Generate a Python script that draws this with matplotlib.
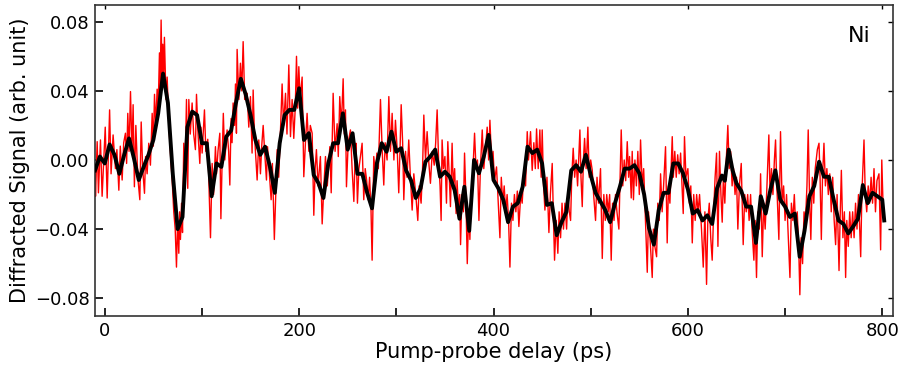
import matplotlib
matplotlib.use("Agg")
import matplotlib.pyplot as plt
from matplotlib.ticker import MultipleLocator

# ---- data ----
black_t = [-10, -5, 0, 5, 10, 15, 20, 25, 30, 35, 40, 45, 50, 55, 60, 65, 70, 75, 80,
           85, 90, 95, 100, 105, 110, 115, 120, 125, 130, 135, 140, 145, 150, 155, 160,
           165, 170, 175, 180, 185, 190, 195, 200, 205, 210, 215, 220, 225, 230, 235,
           240, 245, 250, 255, 260, 265, 270, 275, 280, 285, 290, 295, 300, 305, 310,
           315, 320, 325, 330, 335, 340, 345, 350, 355, 360, 365, 370, 375, 380, 385,
           390, 395, 400, 405, 410, 415, 420, 425, 430, 435, 440, 445, 450, 455, 460,
           465, 470, 475, 480, 485, 490, 495, 500, 505, 510, 515, 520, 525, 530, 535,
           540, 545, 550, 555, 560, 565, 570, 575, 580, 585, 590, 595, 600, 605, 610,
           615, 620, 625, 630, 635, 638, 642, 646, 650, 655, 660, 665, 670, 675, 680,
           685, 690, 695, 700, 705, 710, 715, 720, 725, 730, 735, 740, 745, 750, 755,
           760, 765, 770, 775, 780, 785, 790, 795, 800, 802]
black_v = [-0.006, 0.002, -0.002, 0.009, 0.003, -0.008, 0.003, 0.0125, 0.001, -0.0116,
           -0.004, 0.003, 0.0116, 0.027, 0.050, 0.033, -0.008, -0.040, -0.033,
           0.019, 0.028, 0.026, 0.0097, 0.0097, -0.021, -0.002, -0.004, 0.0135, 0.017,
           0.033, 0.047, 0.038, 0.026, 0.0116, 0.003,
           0.0077, -0.004, -0.019, 0.0097, 0.026, 0.029, 0.029, 0.0415, 0.0116, 0.0155,
           -0.0087, -0.0135, -0.022, -0.002, 0.0097,
           0.0097, 0.027, 0.006, 0.0155, -0.008, -0.008, -0.019, -0.028, -0.002, 0.0097,
           0.0048, 0.0164, 0.0048, 0.0068, -0.006,
           -0.0116, -0.022, -0.0164, -0.001, 0.002, 0.006, -0.0097, -0.0068, -0.0097,
           -0.0175, -0.034, -0.0155, -0.041, 0.000, -0.0077,
           0.002, 0.0145, -0.0116, -0.0164, -0.023, -0.036, -0.027, -0.025, -0.0155,
           0.0077, 0.004, 0.006, -0.002, -0.026, -0.025,
           -0.0435, -0.036, -0.030, -0.006, -0.003, -0.0068, 0.003, -0.0087, -0.019,
           -0.024, -0.029, -0.036, -0.025, -0.0155, -0.005,
           -0.005, -0.003, -0.0077, -0.020, -0.0395, -0.049, -0.029, -0.019, -0.019,
           -0.002, -0.002, -0.0077, -0.017, -0.031, -0.029,
           -0.035, -0.032, -0.037, -0.0164, -0.009, -0.012, 0.006, -0.006, -0.0135,
           -0.018, -0.027, -0.027, -0.048, -0.021, -0.031,
           -0.017, -0.006, -0.023, -0.027, -0.033, -0.031, -0.056, -0.041, -0.021,
           -0.015, -0.001, -0.0097, -0.0097, -0.023, -0.035,
           -0.037, -0.0425, -0.0385, -0.034, -0.0145, -0.025, -0.019, -0.021, -0.023,
           -0.035]

red_t = [-10, -9.5, -7.8, -6.5, -4.4, -2.7, -1, 0.5, 2.5, 5.0, 6.5, 8.6, 11, 12.5, 14.5,
         16, 17.9, 19.5, 21.3, 22.5, 23.7, 25, 26.5, 28, 29.2, 30.5, 32, 34, 36.1, 37.5,
         39, 40.9, 42, 43.6, 45.3, 47, 48.8, 50, 51.2, 52.5, 53.9, 55, 56.3, 57, 58, 59,
         59.7, 60.5, 61.4, 63, 64.2, 66, 68, 69.4, 71, 72.5, 73.8, 75, 76.2, 77, 77.9, 79,
         80, 81.3, 82.5, 84.1, 85.4, 86.5, 88, 89.9, 91.5, 93.3, 94.4, 96, 97.8, 99,
         100.2, 102.6, 104, 106, 107.5, 108.8, 110.5, 112, 113.9, 115, 116.5, 118.4,
         119.5, 121, 122, 123.5, 125.9, 127.5, 128.7, 130, 131, 132.1, 133.5, 134.5,
         135.5, 136.2, 138, 139.6, 141, 142.4, 144, 146.5, 148.2, 149.9, 151.6, 152.7,
         154, 156.8, 158.5, 160.2, 161.5, 163, 164.5, 166.4, 167.5, 169, 171.2, 172.5,
         174.5, 176, 177.4, 179, 180.5, 182.5, 184, 186, 187.5, 189.4, 191.1, 192.8,
         194.5, 196, 197.3, 198.5, 199.7, 201, 203.1, 204.8, 206.5, 208.2, 210, 211.5,
         213.4, 215.1, 216.5, 217.8, 219.5, 221.9, 223.7, 225.5, 227.1, 229, 231.6, 233,
         235, 237, 239.1, 240.3, 241.8, 243.5, 245.3, 246.5, 247.7, 248.7, 250.5, 252.8,
         254.5, 256.3, 257.5, 258.5, 260, 261.5, 263.1, 264.8, 266.5, 268, 269.5, 271,
         272.5, 274, 275.1, 276.8, 278.5, 280, 281.5, 283.7, 285.5, 287.1, 288.5, 290.5,
         292.3, 294, 295.7, 297.5, 299.1, 301, 302.5, 304, 305, 306.5, 307.7, 309.5, 311,
         312.8, 314.5, 316.3, 318, 320, 322.1, 323.5, 325.5, 327, 328.3, 330, 331.7,
         333.5, 335.1, 337, 339, 340.5, 342, 343.5, 345, 346.1, 347.1, 348.5, 350, 351.6,
         353, 354.5, 355.7, 357.4, 358.5, 360, 361.5, 362.5, 364, 365.2, 366.1, 367.5,
         369, 370.2, 371.5, 373, 374.5, 375.7, 377, 378.5, 380.5, 382, 383.5, 385, 386.5,
         388.4, 390, 391.5, 393.5, 395, 396.3, 398, 399.5, 401, 403.1, 404.5, 406.6, 408,
         409.5, 411, 412.5, 414, 415.5, 416.9, 418.5, 420, 421.5, 423, 424.5, 426.1, 428,
         429.5, 431.3, 433, 434.7, 436, 438.1, 439.8, 441.5, 443, 444.3, 446, 447.7, 449,
         450.1, 451.5, 452.9, 455, 457, 458.5, 460.4, 461.5, 462.8, 464.5, 466.2, 467.5,
         469, 470.5, 472, 473.5, 475.2, 476.5, 478, 479.3, 480.5, 482, 483.5, 485, 486.5,
         488.9, 490, 491.3, 492.5, 493.7, 495.3, 497.1, 498.5, 500, 501.6, 503, 505,
         506.5, 508, 510.1, 511.9, 513.5, 515, 516.5, 518, 519.5, 521.1, 522.5, 524,
         525.5, 527, 529, 530.3, 531.4, 533, 534.5, 536, 537.6, 539, 540, 541.7, 542.7,
         544, 545.5, 547, 548.5, 550, 551.3, 553, 554.5, 556, 558.2, 559.5, 561, 563.3,
         564.5, 566, 567.8, 569, 570.5, 571.9, 573.5, 575, 577, 578.7, 580, 581.5, 583.9,
         585, 586.5, 588, 589.5, 591, 592.5, 594, 595.2, 596.5, 598, 600, 601.5, 603,
         604.5, 606, 607.5, 609, 610.5, 612, 614, 615.8, 617.5, 619.2, 620.5, 622, 623.5,
         625, 626.5, 628, 629.5, 630.9, 632.5, 634, 635.3, 636.5, 638, 639.5, 641.1,
         642.5, 644, 645.5, 647, 648.5, 650, 651.4, 653, 654.9, 656.9, 658.5, 660, 661.5,
         663, 664.5, 666, 667.9, 669.2, 670.6, 672, 673.5, 674.8, 676.5, 678, 679.5, 681,
         683.3, 684.5, 686, 687.5, 689, 690.2, 691.5, 693.6, 695.3, 697, 698.5, 700,
         701.5, 703, 705, 706.5, 708, 709.5, 711, 712.5, 714, 715.2, 716.5, 718, 719.5,
         721, 722.5, 723.8, 725.3, 726.5, 728, 729.5, 731, 733.2, 734.9, 736, 737.3,
         738.5, 740, 741.5, 743, 744.5, 746, 747.5, 749, 750.5, 752, 753.5, 755.5, 756.8,
         757.9, 759.5, 761, 762.3, 763.5, 765, 766.5, 768, 769.5, 771, 772.5, 774, 775.5,
         777.8, 779, 781.2, 782.5, 784, 785.5, 787, 788.5, 790, 791.5, 793, 794.5, 796.6,
         798.3, 799.5, 801, 802]
red_v = [-0.006, -0.021, 0.0106, -0.019, 0.0116, -0.021, 0.0, 0.019, -0.022, 0.029, -0.008,
         0.0145, -0.005, 0.006, -0.0175, 0.008, -0.0116, 0.01, 0.0155, -0.002, 0.027, 0.005,
         0.0396, 0.005, 0.032, -0.0155, 0.020, -0.010, -0.023, 0.022, -0.005, -0.0193,
         0.002, -0.008, 0.0097, -0.003, 0.027, 0.008, 0.038, 0.02, 0.041, 0.03, 0.062,
         0.04, 0.081, 0.045, 0.067, 0.045, 0.071, 0.035, 0.048, 0.02, 0.0, -0.012, -0.03,
         -0.04, -0.062, -0.035, -0.054, -0.03, -0.046, -0.025,
         -0.042, 0.0097, -0.01, 0.035, -0.0164, 0.035, 0.015, 0.033, 0.015, 0.006, 0.038,
         0.015, -0.002, 0.019, 0.004, 0.029, 0.005, 0.012, -0.02, -0.045, -0.002, -0.02,
         0.0077, -0.008, 0.005, 0.0155, -0.034, 0.005, 0.027, 0.0, 0.0174, 0.005, -0.0145,
         0.024, 0.01, 0.033, 0.02, 0.044, 0.0155, 0.064, 0.035, 0.056, 0.04, 0.0685,
         0.035, 0.0386, 0.019, 0.0367, 0.004, 0.0405, 0.015, -0.0116, 0.0116, -0.008,
         0.008, 0.020, 0.005, -0.0116, 0.0077, -0.005, -0.023, -0.002,
         -0.046, -0.02, 0.006, -0.01, 0.012, 0.044, 0.02, 0.0386, 0.015, 0.055, 0.0135,
         0.035, 0.0125, 0.03, 0.060, 0.03, 0.054, 0.035, 0.048, -0.0097, 0.01, 0.027,
         0.005, 0.02, 0.0155, -0.032, -0.005, 0.006, -0.015, 0.002, -0.037, -0.015,
         0.002, -0.015, 0.0077, -0.019, 0.0386, 0.005, 0.021, 0.002, 0.0367, 0.02, 0.047,
         0.015, 0.029, -0.0155, 0.01, 0.0174, -0.005, -0.024, 0.0, 0.0097, -0.025, -0.005,
         0.002, 0.0097, -0.023, -0.005, -0.012, -0.023,
         -0.01, -0.03, -0.058, 0.002, -0.008, 0.004, -0.005, 0.035, 0.005, -0.0145, 0.01,
         0.0, 0.0367, 0.005, 0.027, 0.0, 0.023, 0.005, -0.019, 0.01, 0.032, 0.01, -0.023,
         0.005, -0.01, 0.0116, -0.01, -0.029, -0.008, -0.02, -0.035, -0.015, -0.025,
         -0.005, 0.026, 0.0, 0.0164, -0.002, -0.0135, 0.005, -0.003, 0.01, 0.029, 0.0,
         -0.015, -0.035, 0.0116, -0.005, 0.002, -0.025, 0.0106, -0.01, -0.027, 0.0097,
         -0.0155, -0.005, -0.031, -0.012, -0.029, -0.02, -0.049, -0.02,
         -0.03, 0.004, -0.02, -0.06, -0.03, -0.046, -0.02, -0.01, 0.0155, -0.005, 0.0,
         -0.035, -0.005, 0.0174, -0.005, 0.005, 0.019, 0.0, 0.023, 0.0, 0.005, -0.012,
         -0.004, -0.02, -0.045, -0.01, -0.025, -0.015, -0.03, -0.02, -0.035, -0.062,
         -0.025, -0.035, -0.02, -0.03, -0.018, -0.0385, -0.02, -0.025, -0.006, -0.015,
         0.0164, 0.0, 0.0164, -0.006, 0.01, -0.005, 0.018, -0.005, 0.0174, -0.01,
         0.0174, -0.015, -0.029, -0.01, -0.042, -0.02, -0.002, -0.03, -0.058, -0.035,
         -0.054, -0.03, -0.045, -0.025, -0.04, -0.025, -0.040, -0.02, -0.03, -0.035,
         -0.01, 0.0068, -0.01, 0.0, -0.015, 0.0174, -0.01, -0.027, 0.0, 0.0125, -0.005,
         0.019, -0.01, 0.0, -0.006, -0.02, -0.035, -0.01, -0.025, -0.005, -0.057, -0.02,
         -0.035, -0.02, -0.03, -0.02, -0.058, -0.025, -0.035, -0.02, -0.03, -0.040,
         -0.01, 0.0174, -0.015, 0.0, -0.012, 0.0106, -0.01, 0.002, -0.022, 0.005,
         -0.023, 0.0, -0.015, 0.005, -0.02, 0.0116, -0.015, -0.005, -0.03, -0.065, -0.03,
         -0.045, -0.068, -0.04, -0.05, -0.056, -0.025, -0.035, -0.008, -0.03, -0.015,
         0.0077, -0.048, -0.015, -0.025, 0.0135, -0.01, 0.005, -0.01, 0.003, -0.008,
         0.004, -0.015, -0.031, 0.0135, -0.01, -0.005, -0.025, -0.015, -0.048, -0.02,
         -0.035, -0.02, -0.03, -0.02, -0.04, -0.062, -0.03, -0.072, -0.035, -0.025,
         -0.045, -0.058, -0.03, -0.01, 0.004, -0.050, 0.005, -0.02,
         -0.036, -0.01, -0.025, 0.0, 0.020, -0.005, 0.005, -0.015, -0.005, -0.02, -0.01,
         -0.040, -0.015, -0.002, -0.049, -0.02, -0.03, -0.02, -0.035, -0.02, -0.04,
         -0.058, -0.035, -0.068, -0.03, -0.04, -0.008, -0.056, -0.025, -0.04, -0.02,
         0.0145, -0.02, -0.005, -0.02, 0.0, 0.0116, -0.015, -0.046, 0.0164, -0.025,
         -0.015, -0.035, -0.02, -0.04, -0.068, -0.025, -0.035, -0.02, -0.04, -0.03,
         -0.05, -0.078, -0.045, -0.06, -0.03, -0.035, -0.015, 0.0174, -0.025, -0.046,
         -0.01, -0.025, -0.005, 0.006, 0.0097, -0.01, -0.046, -0.01, 0.0097, -0.015,
         -0.005, -0.02, -0.008, -0.03, -0.01, -0.035, -0.049, -0.02, -0.064, -0.03,
         -0.006, -0.045, -0.03, -0.068, -0.035, -0.05, -0.03, -0.045, -0.03, -0.045,
         -0.025, -0.04, -0.02, -0.056, -0.02, 0.0116, -0.02, -0.03, -0.015, -0.025,
         -0.01, -0.025, -0.005, -0.03, -0.012, -0.008, -0.052, 0.0, -0.03, -0.035]

x_ticks = [0, 200, 400, 600, 800]
y_ticks = [-0.08, -0.04, 0.00, 0.04, 0.08]
y_tick_labels = ["\u22120.08", "\u22120.04", "0.00", "0.04", "0.08"]

# ---- figure ----
fig = plt.figure(figsize=(9.05, 3.68), dpi=100)
ax = fig.add_axes([0.105, 0.1413, 0.8817, 0.8451])

ax.plot(red_t, red_v, color="#ff0000", lw=1.0, zorder=2)
ax.plot(black_t, black_v, color="black", lw=2.8, zorder=3,
        solid_joinstyle="round")

ax.set_xlim(-10, 811)
ax.set_ylim(-0.0903, 0.0897)

ax.set_xticks(x_ticks)
ax.xaxis.set_minor_locator(MultipleLocator(100))
ax.set_yticks(y_ticks)
ax.set_yticklabels(y_tick_labels)

ax.tick_params(axis="x", which="both", direction="in", length=6, width=1.2,
               top=False, bottom=True, labelsize=13, colors="black", pad=4)
ax.tick_params(axis="y", which="major", direction="in", length=6, width=1.2,
               left=True, right=False, labelsize=13, pad=4)

for sp in ax.spines.values():
    sp.set_color("#333333")
    sp.set_linewidth(1.2)

# short ticks on top and right
sec_x = ax.secondary_xaxis("top")
sec_x.set_xticks(x_ticks)
sec_x.tick_params(direction="in", length=3, width=1.0, labeltop=False)
sec_x.spines["top"].set_visible(False)
sec_y = ax.secondary_yaxis("right")
sec_y.set_yticks(y_ticks)
sec_y.tick_params(direction="in", length=3.5, width=1.0, labelright=False)
sec_y.spines["right"].set_visible(False)

ax.set_xlabel("Pump-probe delay (ps)", fontsize=15, labelpad=2)
ax.set_ylabel("Diffracted Signal (arb. unit)", fontsize=15, labelpad=3)

ax.text(0.972, 0.90, "Ni", transform=ax.transAxes, fontsize=16,
        ha="right", va="center")

fig.savefig("out.png", dpi=100)
